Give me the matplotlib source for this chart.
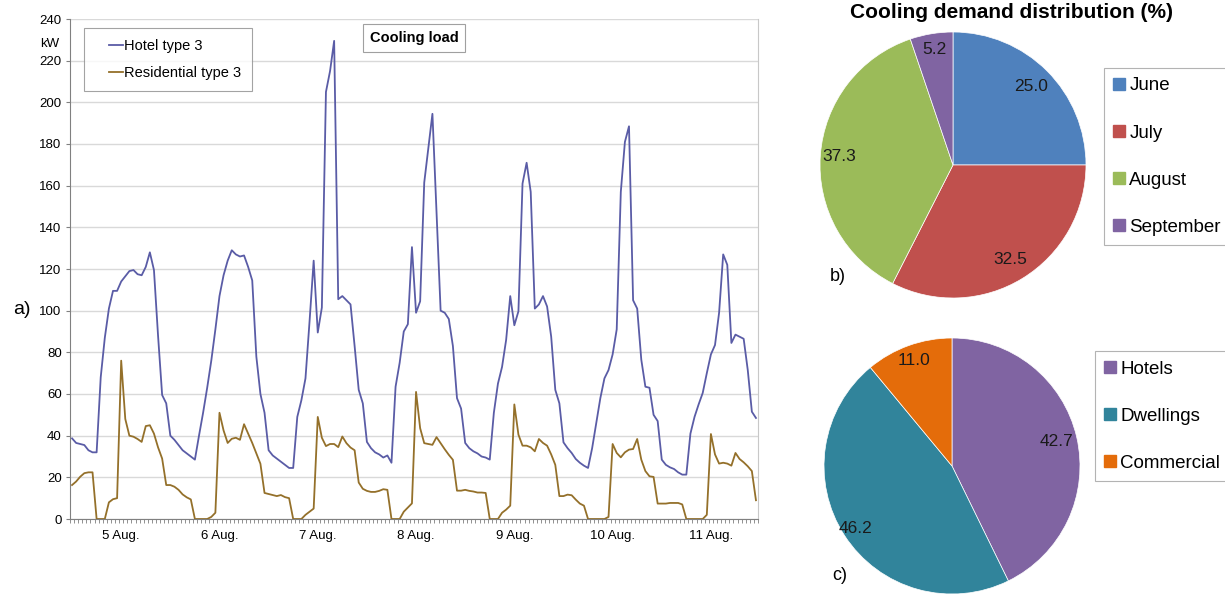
import numpy as np
import matplotlib
matplotlib.use("Agg")
import matplotlib.pyplot as plt
from matplotlib.lines import Line2D
from matplotlib.legend_handler import HandlerTuple

plt.rcParams['font.family'] = ['Liberation Sans', 'DejaVu Sans']

# hourly cooling load, 4 Aug 12:00 .. 11 Aug 11:00 (kW)
hotel = [
    38.7, 36.5, 36, 35.5, 33, 32, 32, 68, 87, 101, 109.5, 109.5,
    114, 116.5, 119, 119.5, 117.5, 117, 121, 128, 119.5, 88, 59.5, 55.5,
    40, 38, 35.5, 33, 31.5, 30, 28.5, 40, 51, 63, 76, 91,
    107, 117, 124, 129, 127, 126, 126.5, 121, 114.5, 78, 60, 51,
    33, 30.5, 29, 27.5, 26, 24.5, 24.5, 49, 57, 67.5, 95, 124,
    89.5, 101.5, 205, 215, 229.5, 105.5, 107, 105, 103, 83, 62, 55.5,
    37, 34, 32, 31, 29.5, 30.5, 27, 63.5, 75, 90, 93.5, 130.5,
    99, 104.5, 161.5, 178, 194.5, 147, 100, 99, 96, 83, 58, 53,
    36.5, 34, 32.5, 31.5, 30, 29.5, 28.5, 51, 65, 73, 86, 107,
    93, 99.7, 161, 171, 157, 101, 103, 107, 102, 87.5, 62, 55.5,
    36.8, 34, 31.7, 28.8, 27, 25.6, 24.5, 34, 46, 58, 67.5, 71.5,
    79, 91, 157, 181, 188.5, 105, 101, 76.5, 63.5, 63, 50, 47,
    28.5, 26, 24.8, 24, 22.4, 21.3, 21.3, 41, 49, 55, 60.5, 70,
    79, 83.5, 99, 127, 122, 84.5, 88.5, 87.5, 86.5, 71.5, 51.5, 48.5,
]
residential = [
    16.3, 18, 20.3, 22, 22.4, 22.4, 0, 0, 0, 8, 9.5, 10,
    76, 48, 40, 39.5, 38.4, 37, 44.6, 45, 41, 34.4, 29, 16.3,
    16.3, 15.5, 14, 11.8, 10.4, 9.4, 0, 0, 0, 0, 1, 3,
    51, 42.5, 36.5, 38.5, 39, 38, 45.5, 41, 36.5, 31.5, 26.5, 12.5,
    12, 11.5, 11, 11.5, 10.5, 10, 0, 0, 0, 2, 3.5, 5,
    49, 39, 35, 36, 36, 34.5, 39.6, 36.4, 34.3, 33, 17.5, 14.5,
    13.5, 13, 13, 13.5, 14.3, 14, 0, 0, 0, 3.5, 5.5, 7.5,
    61, 43.6, 36.4, 36, 35.6, 39.3, 36.4, 33.5, 30.8, 28.4, 13.6, 13.6,
    14, 13.5, 13.2, 12.7, 12.7, 12.5, 0, 0, 0, 3, 4.5, 6.4,
    55, 40.5, 35.2, 35.2, 34.4, 32.5, 38.4, 36.5, 35.2, 31, 26, 11,
    11, 11.7, 11.4, 9.3, 7.4, 6.4, 0, 0, 0, 0, 0, 1,
    36, 31.7, 29.6, 32, 33.3, 33.6, 38.4, 28.5, 23, 20.5, 20.2, 7.4,
    7.4, 7.4, 7.7, 7.7, 7.7, 7, 0, 0, 0, 0, 0, 2,
    40.8, 31, 26.6, 27, 26.6, 25.6, 31.7, 28.8, 27.2, 25.3, 23, 9,
]
day_labels = ['5 Aug.', '6 Aug.', '7 Aug.', '8 Aug.', '9 Aug.', '10 Aug.', '11 Aug.']

months = ['June', 'July', 'August', 'September']
month_share = [25.0, 32.5, 37.3, 5.2]
month_colors = ['#4f81bd', '#c0504d', '#9bbb59', '#8064a2']

sectors = ['Hotels', 'Dwellings', 'Commercial']
sector_share = [42.7, 46.2, 11.0]
sector_colors = ['#8064a2', '#31849b', '#e46c0a']

W, H = 1225, 594
fig = plt.figure(figsize=(W / 100, H / 100), dpi=100)

# ---- a) hourly load ----
ax = fig.add_axes([70 / W, 75 / H, 688 / W, 500 / H])
hours = np.arange(len(hotel))
l_hotel, = ax.plot(hours, hotel, color='#5a5ca6', lw=1.3)
l_res, = ax.plot(hours, residential, color='#94702a', lw=1.3)
ax.set_xlim(-0.5, len(hotel) - 0.5)
ax.set_ylim(0, 240)
ax.set_yticks(np.arange(0, 241, 20))
ax.yaxis.grid(True, color='#d9d9d9', lw=1)
ax.set_axisbelow(True)
ax.set_xticks(np.arange(12, len(hotel), 24))
ax.set_xticklabels(day_labels)
ax.set_xticks(np.arange(-0.5, len(hotel), 1), minor=True)
ax.tick_params(axis='x', which='major', length=0, pad=8, labelsize=9.5)
ax.tick_params(axis='x', which='minor', length=3, color='#808080')
ax.tick_params(axis='y', length=3, color='#808080', pad=3, labelsize=9.5)
for s in ['left', 'bottom']:
    ax.spines[s].set_color('#808080')
ax.spines['right'].set_color('#c8c8c8')
ax.spines['top'].set_visible(False)

# blank spacer in front of each legend line gives the wider left margin
blank = Line2D([], [], ls='', marker='')
leg = ax.legend([(blank, l_hotel), (blank, l_res)],
                ['Hotel type 3', 'Residential type 3'],
                handler_map={tuple: HandlerTuple(ndivide=None, pad=0)},
                loc='upper left', bbox_to_anchor=(84 / W, 1 - 28 / H),
                bbox_transform=fig.transFigure, fontsize=10.5, frameon=True,
                fancybox=False, edgecolor='#8c8c8c', handlelength=1.9,
                handletextpad=0.1, labelspacing=0.9, borderpad=0.75,
                borderaxespad=0)
leg.get_frame().set_linewidth(0.8)

ax.text(414 / W, 1 - 38 / H, 'Cooling load', transform=fig.transFigure,
        ha='center', va='center', fontsize=10.5, fontweight='bold',
        bbox=dict(boxstyle='square,pad=0.45', fc='white', ec='#a0a0a0', lw=0.8))
fig.text(50 / W, 1 - 44 / H, 'kW', ha='center', va='center', fontsize=9.5)
fig.text(22 / W, 1 - 310 / H, 'a)', ha='center', va='center', fontsize=14)


def draw_pie(pax, values, colors, dists):
    wedges, _ = pax.pie(values, colors=colors, startangle=90, counterclock=False,
                        wedgeprops=dict(edgecolor='white', linewidth=0.5))
    for w, v, d in zip(wedges, values, dists):
        ang = np.deg2rad((w.theta1 + w.theta2) / 2)
        pax.text(d * np.cos(ang), d * np.sin(ang), f'{v:.1f}', ha='center',
                 va='center', fontsize=12.5, color='#1a1a1a')
    pax.set_xlim(-1, 1)
    pax.set_ylim(-1, 1)
    pax.set_aspect('equal')


def square_handles(colors):
    return [Line2D([], [], marker='s', ls='', color=c, markersize=9) for c in colors]


def side_legend(handles, labels, left, top):
    lg = fig.legend(handles, labels, loc='upper left',
                    bbox_to_anchor=(left / W, 1 - top / H), fontsize=13.5,
                    fancybox=False, edgecolor='#a0a0a0', handlelength=0.6,
                    handletextpad=0.25, labelspacing=1.6, borderpad=0.5,
                    borderaxespad=0)
    lg.get_frame().set_linewidth(0.8)
    return lg


# ---- b) monthly distribution ----
ax_b = fig.add_axes([820 / W, 296 / H, 266 / W, 266 / H])
draw_pie(ax_b, month_share, month_colors, [0.83, 0.83, 0.86, 0.88])
fig.text(1012 / W, 1 - 13 / H, 'Cooling demand distribution (%)', ha='center',
         va='center', fontsize=15, fontweight='bold')
fig.text(838 / W, 1 - 277 / H, 'b)', ha='center', va='center', fontsize=13)
side_legend(square_handles(month_colors), months, 1104, 68)

# ---- c) sector distribution ----
ax_c = fig.add_axes([824 / W, 0, 256 / W, 256 / H])
draw_pie(ax_c, sector_share, sector_colors, [0.835, 0.9, 0.88])
fig.text(840 / W, 1 - 575 / H, 'c)', ha='center', va='center', fontsize=13)
side_legend(square_handles(sector_colors), sectors, 1095, 351)

fig.savefig('out.png', dpi=100, facecolor='white')
